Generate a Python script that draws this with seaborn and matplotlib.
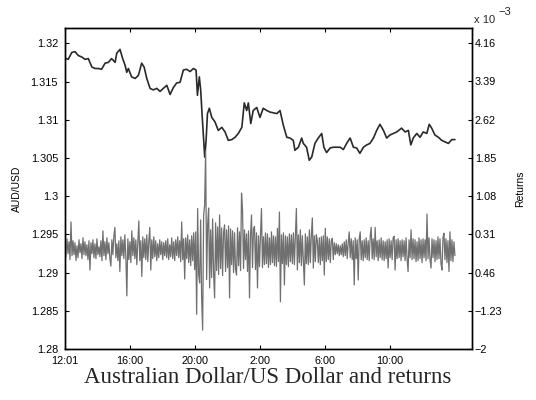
import numpy as np
import pandas as pd
import matplotlib
matplotlib.use("Agg")
import matplotlib.pyplot as plt
import seaborn as sns

# AUD/USD mid price, minutes after 12:00
price_minutes = [4, 12, 25, 37, 49, 62, 74, 86, 99, 111, 123, 135, 148, 160, 172, 185,
                 191, 203, 213, 222, 228, 234, 246, 259, 271, 283, 292, 302, 314, 326,
                 339, 351, 363, 376, 388, 400, 412, 425, 437, 449, 462, 474, 484, 489,
                 496, 501, 506, 511, 516, 521, 526, 533, 542, 554, 566, 579, 591, 603,
                 616, 628, 640, 653, 662, 671, 677, 686, 695, 708, 720, 732, 745, 757,
                 782, 794, 806, 819, 831, 843, 849, 862, 874, 880, 892, 902, 911, 923,
                 935, 948, 956, 966, 979, 991, 1003, 1016, 1028, 1040, 1053, 1065, 1077,
                 1089, 1102, 1114, 1126, 1139, 1151, 1163, 1176, 1188, 1200, 1213, 1225,
                 1243, 1256, 1268, 1277, 1286, 1299, 1311, 1323, 1336, 1345, 1354, 1366,
                 1379, 1391, 1403, 1416, 1428, 1440]
price = [1.3180, 1.3179, 1.3188, 1.3189, 1.3184, 1.3182, 1.3179, 1.3180, 1.3169, 1.3167,
         1.3167, 1.3166, 1.3174, 1.3175, 1.3180, 1.3175, 1.3187, 1.3192, 1.3180, 1.3171,
         1.3162, 1.3167, 1.3156, 1.3154, 1.3158, 1.3174, 1.3169, 1.3154, 1.3141, 1.3139,
         1.3141, 1.3137, 1.3141, 1.3145, 1.3133, 1.3142, 1.3148, 1.3149, 1.3165, 1.3166,
         1.3163, 1.3167, 1.3165, 1.3132, 1.3156, 1.3139, 1.3108, 1.3080, 1.3051, 1.3073,
         1.3108, 1.3115, 1.3103, 1.3097, 1.3086, 1.3090, 1.3084, 1.3073, 1.3074, 1.3077,
         1.3082, 1.3090, 1.3122, 1.3112, 1.3122, 1.3095, 1.3112, 1.3116, 1.3103, 1.3115,
         1.3112, 1.3110, 1.3108, 1.3112, 1.3093, 1.3077, 1.3076, 1.3073, 1.3060, 1.3064,
         1.3076, 1.3069, 1.3064, 1.3047, 1.3051, 1.3069, 1.3076, 1.3082, 1.3064, 1.3057,
         1.3063, 1.3064, 1.3064, 1.3064, 1.3061, 1.3069, 1.3076, 1.3064, 1.3063, 1.3056,
         1.3064, 1.3067, 1.3069, 1.3076, 1.3086, 1.3094, 1.3086, 1.3076, 1.3080, 1.3082,
         1.3084, 1.3089, 1.3084, 1.3086, 1.3067, 1.3076, 1.3082, 1.3077, 1.3084, 1.3082,
         1.3094, 1.3089, 1.3080, 1.3077, 1.3073, 1.3071, 1.3069, 1.3074, 1.3074]

# Returns in units of 1e-3, evenly spaced over the session
returns = [
    0.10, -0.14, 0.22, -0.08, 0.16, -0.20, 0.56, -0.12, 0.18, -0.10,
    0.14, -0.22, 0.08, -0.16, 0.20, -0.06, 0.12, -0.18, 0.24, -0.10,
    0.16, -0.12, 0.10, -0.20, 0.18, -0.41, 0.14, -0.08, 0.20, -0.16,
    0.12, -0.18, 0.22, -0.10, 0.06, -0.14, 0.18, -0.22, 0.38, -0.12,
    0.16, -0.20, 0.24, -0.08, 0.14, -0.18, -0.33, 0.20, -0.10, 0.28,
    0.45, -0.16, 0.12, -0.22, 0.18, -0.44, 0.26, -0.12, 0.20, -0.18,
    0.30, -0.14, -0.93, 0.22, -0.20, 0.16, -0.26, 0.38, -0.12, 0.24,
    -0.18, 0.20, -0.30, 0.14, 0.58, -0.22, 0.18, -0.54, 0.26, -0.16,
    0.22, -0.20, 0.30, -0.24, 0.16, 0.45, -0.41, 0.20, -0.18, 0.26,
    -0.14, 0.18, -0.22, 0.12, -0.16, 0.20, -0.10, 0.16, -0.20, 0.14,
    -0.12, 0.18, -0.16, 0.22, -0.20, 0.10, -0.14, 0.24, -0.18, 0.16,
    -0.22, 0.20, -0.12, 0.26, -0.16, 0.18, -0.24, 0.56, -0.20, 0.22,
    -0.59, 0.24, -0.18, 0.30, -0.26, 0.20, -0.32, 0.28, -0.22, 0.34,
    -0.40, 0.36, -1.30, 0.83, -0.50, -0.67, 0.60, -0.97, -1.62, 0.70,
    0.90, 2.00, -0.60, 0.50, 0.84, -0.77, 0.40, -0.56, 0.62, -0.48,
    -0.97, 0.54, -0.42, 0.46, -0.50, 0.70, -0.38, 0.44, -0.52, 0.36,
    0.50, -0.44, 0.40, -0.36, 0.48, -0.97, 0.42, -0.30, 0.38, -0.46,
    0.34, -0.40, -0.51, 0.44, -0.32, 0.36, -0.42, 1.14, 0.80, -0.38,
    0.40, -0.20, 0.32, -0.44, 0.38, -0.97, 0.30, 0.70, -0.36, 0.42,
    0.47, -0.40, 0.34, -0.77, 0.28, -0.34, 0.30, 0.83, -0.36, 0.26,
    -0.30, 0.34, -0.28, 0.32, -0.36, 0.24, -0.30, 0.36, -0.26, 0.28,
    -0.32, 0.26, -0.34, 0.43, -0.24, 0.76, -1.05, 0.30, -0.28, 0.34,
    -0.71, 0.28, -0.30, 0.26, -0.34, 0.32, -0.24, 0.30, -0.28, 0.34,
    -0.30, 0.28, 0.83, -0.41, 0.30, -0.26, 0.40, -0.32, 0.28, -0.24,
    -0.71, 0.32, -0.28, 0.26, -0.30, 0.40, -0.26, 0.30, 0.64, -0.37,
    0.28, -0.24, 0.30, 0.19, -0.26, 0.24, -0.30, 0.26, -0.22, 0.28,
    -0.51, 0.43, -0.24, 0.26, -0.20, 0.22, -0.26, 0.18, 0.23, -0.20,
    0.14, -0.10, 0.12, -0.08, 0.10, -0.12, 0.08, -0.10, 0.12, -0.14,
    0.16, -0.12, 0.20, -0.18, 0.14, 0.36, -0.16, 0.22, -0.20, 0.18,
    -0.71, 0.24, -0.18, 0.20, -0.61, 0.22, 0.36, -0.20, 0.18, -0.22,
    0.20, -0.16, 0.24, -0.20, 0.18, -0.22, 0.26, 0.45, -0.18, 0.22,
    -0.20, 0.45, -0.14, 0.18, -0.22, 0.20, -0.16, 0.24, -0.20, 0.18,
    -0.22, 0.16, -0.18, 0.20, -0.37, 0.22, -0.16, 0.18, -0.20, 0.24,
    0.27, -0.41, 0.20, -0.18, 0.22, -0.16, 0.18, -0.22, 0.20, -0.14,
    0.18, -0.22, 0.24, -0.18, -0.44, 0.20, -0.16, 0.40, -0.20, 0.22,
    -0.18, 0.20, -0.24, 0.16, -0.22, 0.24, -0.18, 0.20, -0.26, 0.22,
    -0.16, 0.20, -0.22, 0.72, -0.18, 0.24, -0.20, -0.37, 0.22, -0.16,
    0.20, -0.24, 0.18, -0.20, 0.26, -0.18, 0.22, -0.28, -0.41, 0.24,
    0.33, -0.20, 0.22, -0.26, 0.18, -0.44, 0.36, -0.22, 0.20, -0.24,
    0.16, -0.12,
]

time_ticks = [0, 240, 480, 720, 960, 1200]
time_labels = ["12:01", "16:00", "20:00", "2:00", "6:00", "10:00"]
price_ticks = [1.28, 1.285, 1.29, 1.295, 1.3, 1.305, 1.31, 1.315, 1.32]
price_labels = ["1.28", "1.285", "1.29", "1.295", "1.3", "1.305", "1.31", "1.315", "1.32"]
ret_ticks = [-2, -1.23, -0.46, 0.31, 1.08, 1.85, 2.62, 3.39, 4.16]
ret_labels = ["\u22122", "\u22121.23", "0.46", "0.31", "1.08", "1.85", "2.62", "3.39", "4.16"]

sns.set_theme(style="white")
plt.rcParams["font.family"] = ["Liberation Sans", "DejaVu Sans"]

price_df = pd.DataFrame({"minute": price_minutes, "AUD/USD": price})
ret_df = pd.DataFrame({"minute": np.linspace(0, 1440, len(returns)), "Returns": returns})

fig = plt.figure(figsize=(5.36, 4.0), dpi=100)
ax = fig.add_axes([0.1213, 0.1275, 0.7593, 0.8025])
ax2 = ax.twinx()

sns.lineplot(data=ret_df, x="minute", y="Returns", ax=ax2, color="#707070",
             linewidth=0.9, estimator=None)
sns.lineplot(data=price_df, x="minute", y="AUD/USD", ax=ax, color="#2a2a2a",
             linewidth=1.2, estimator=None)

ax.set_xlim(0, 1503)
ax.set_ylim(1.28, 1.3220)
ax2.set_ylim(-2, 4.466)

ax.set_xticks(time_ticks)
ax.set_xticklabels(time_labels)
ax.set_yticks(price_ticks)
ax.set_yticklabels(price_labels)
ax2.set_yticks(ret_ticks)
ax2.set_yticklabels(ret_labels)

ax.set_xlabel("")
ax.set_ylabel("AUD/USD", fontsize=7.5, color="black", labelpad=6)
ax2.set_ylabel("Returns", fontsize=7.5, color="black", labelpad=9)

for a in (ax, ax2):
    for s in a.spines.values():
        s.set_color("black")
        s.set_linewidth(1.0)
ax.tick_params(axis="x", direction="in", length=3, width=0.8, top=True, bottom=True,
               labelsize=7.8, colors="black", pad=5)
ax.tick_params(axis="y", direction="in", length=3, width=0.8, left=True, right=False,
               labelsize=7.8, colors="black", pad=5)
ax2.tick_params(axis="y", direction="in", length=3, width=0.8, right=True,
                labelsize=7.8, colors="black", pad=2)
ax.grid(False)
ax2.grid(False)

fig.text(0.884, 0.937, "x 10", fontsize=8, ha="left", va="bottom")
fig.text(0.930, 0.958, "\u22123", fontsize=8, ha="left", va="bottom")

fig.text(0.5, 0.057, "Australian Dollar/US Dollar and returns", ha="center", va="center",
         fontsize=16.5, family=["Liberation Serif", "DejaVu Serif"])

fig.savefig("out.png", dpi=100)
